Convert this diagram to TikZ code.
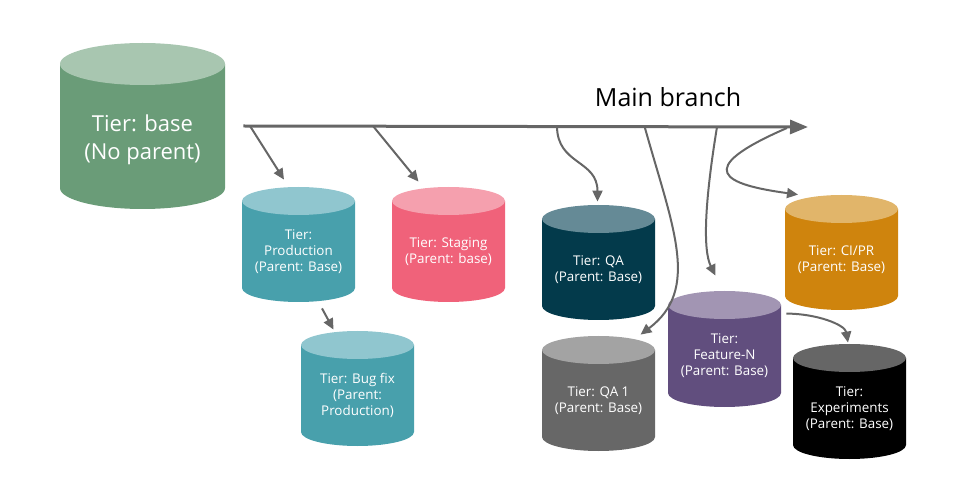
\documentclass[tikz,border=0pt]{standalone}
\usepackage{fontspec}
\setmainfont{Open Sans}
\usetikzlibrary{arrows.meta,positioning,calc}

\definecolor{linegray}{HTML}{666666}
\definecolor{basebody}{HTML}{6A9C78}
\definecolor{basetop}{HTML}{A8C6B0}
\definecolor{prodbody}{HTML}{48A0AC}
\definecolor{prodtop}{HTML}{90C6CF}
\definecolor{stagebody}{HTML}{F0627A}
\definecolor{stagetop}{HTML}{F5A0AE}
\definecolor{qabody}{HTML}{033A4B}
\definecolor{qatop}{HTML}{658A96}
\definecolor{qaonebody}{HTML}{676767}
\definecolor{qaonetop}{HTML}{A3A3A3}
\definecolor{featbody}{HTML}{614E7E}
\definecolor{feattop}{HTML}{A295B3}
\definecolor{cibody}{HTML}{CF840D}
\definecolor{citop}{HTML}{E1B56A}
\definecolor{expbody}{HTML}{000000}
\definecolor{exptop}{HTML}{666666}

\tikzset{
  tierbox/.style={inner sep=0pt},
  tiertext/.style={text=white,align=center,font=\fontsize{6.7}{8}\selectfont},
  branch/.style={draw=linegray,line width=1pt,-{Triangle[length=5.5pt,width=5pt]}},
  mainline/.style={draw=linegray,line width=1.5pt,-{Triangle[length=9pt,width=7pt]}}
}

% #1 name, #2 left, #3 top, #4 width, #5 height, #6 end radius, #7 colour, #8 label
\newcommand{\tier}[8]{%
  \fill[#7body] (#2,-#3-#6) -- (#2,-#3-#5+#6) arc[start angle=180,end angle=360,x radius=#4/2,y radius=#6] -- (#2+#4,-#3-#6) -- cycle;
  \fill[#7top] (#2+#4/2,-#3-#6) ellipse[x radius=#4/2,y radius=#6];
  \node[tierbox,minimum width=#4*0.5pt,minimum height=#5*0.5pt] (#1) at (#2+#4/2,-#3-#5/2) {};
  \node[tiertext] (#1-text) at (#2+#4/2,-#3-#5/2-#6/2) {#8};
}

\begin{document}
\begin{tikzpicture}[x=0.5pt,y=0.5pt]
\useasboundingbox (0,0) rectangle (959,-486);

\tier{base}{60}{43}{165}{166}{21}{base}{}
\node[tiertext,font=\fontsize{11}{14}\selectfont] (base-label) at ([yshift=-1.5pt]base-text) {Tier: base\\(No parent)};
\tier{prod}{242}{187}{113}{115}{14}{prod}{Tier:\\Production\\(Parent: Base)}
\tier{stage}{392}{187}{113}{115}{14}{stage}{Tier: Staging\\(Parent: base)}
\tier{bugfix}{301}{331}{113}{115}{14}{prod}{Tier: Bug fix\\(Parent:\\Production)}
\tier{qa}{542}{205}{113}{115}{14}{qa}{Tier: QA\\(Parent: Base)}
\tier{qaone}{542}{336}{113}{115}{14}{qaone}{Tier: QA 1\\(Parent: Base)}
\tier{feat}{668}{291}{113}{116}{14}{feat}{Tier:\\Feature-N\\(Parent: Base)}
\tier{ci}{785}{195}{113}{115}{14}{ci}{Tier: CI/PR\\(Parent: Base)}
\tier{exp}{793}{344}{113}{115}{14}{exp}{Tier:\\Experiments\\(Parent: Base)}

% main branch
\coordinate (trunk) at ([xshift=9pt]base.east);
\coordinate (trunkend) at (808,-127);
\draw[mainline] (trunk) -- (trunkend);
\node[font=\fontsize{12.5}{15}\selectfont] (mainlabel) at (668,-97) {Main branch};

\coordinate (fork1) at (250,-126);
\coordinate (fork2) at (373,-126);
\coordinate (fork3) at (557,-126);
\coordinate (fork4) at (645,-128);
\coordinate (fork5) at (717,-127);
\coordinate (fork6) at (787,-128);

\draw[branch] (fork1) -- ($(prod.north)+(-14.5,7)$);
\draw[branch] (fork2) -- ($(stage.north)+(-30,5)$);
\draw[branch] ($(prod.south)+(23.5,-6)$) -- ($(bugfix.north)+(-24,1)$);
\draw[branch] (fork3) .. controls +(0,-39) and +(0,42) .. ($(qa.north)+(-1,3)$);
\draw[branch] (fork4) .. controls +(28,-100) and +(60,45) .. ($(qaone.north)+(42,1)$);
\draw[branch] (fork5) .. controls +(-12,-73) and +(-13,26) .. ($(feat.north)+(-9,15)$);
\draw[branch] (fork6) .. controls +(-97,-42) and +(-73,10) .. ($(ci.north)+(-43.5,0)$);
\draw[branch] ($(feat.north east)+(5,-23)$) .. controls +(30,0) and +(-3,18) .. ($(exp.north)+(-1.5,1)$);
\end{tikzpicture}
\end{document}
